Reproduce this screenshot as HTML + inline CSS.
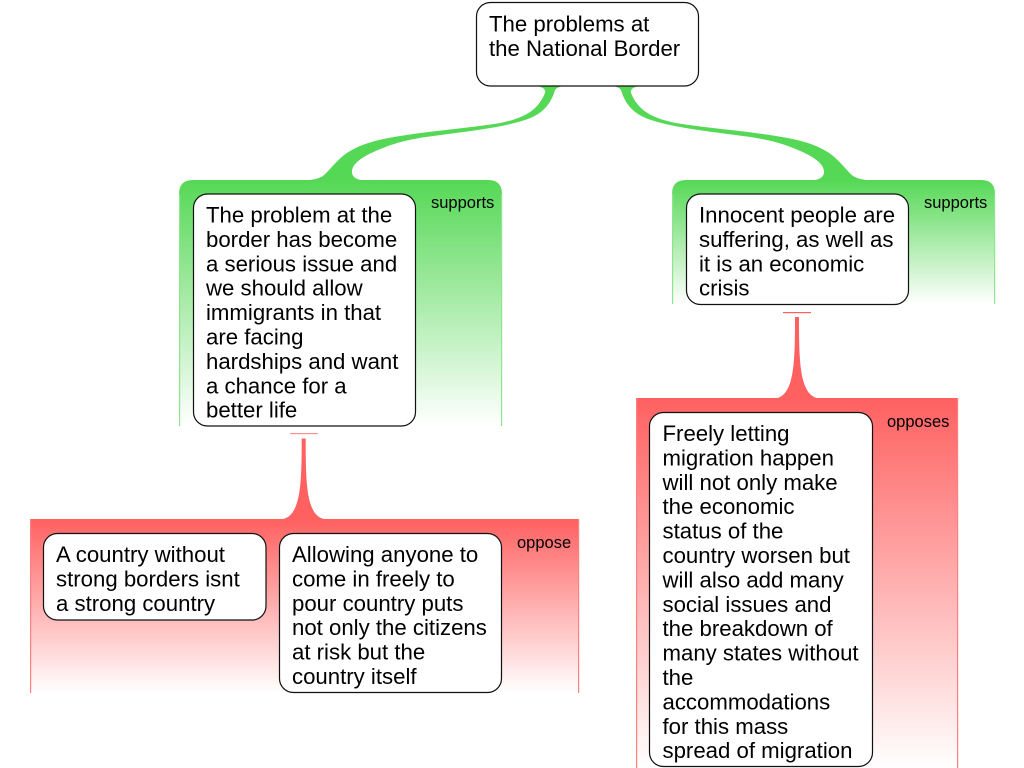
<!DOCTYPE html>
<html><head><meta charset="utf-8"><style>
html,body{margin:0;padding:0;background:#fff;width:1024px;height:768px;overflow:hidden}
svg{display:block}
text{font-family:"Liberation Sans",sans-serif;fill:#000}
.t{font-size:22.2px}
.l{font-size:16.5px}
.b{fill:#fff;stroke:#111;stroke-width:1.2}
</style></head><body>
<svg width="1024" height="768" viewBox="0 0 1024 768" xmlns="http://www.w3.org/2000/svg">
<defs>
<linearGradient id="g1" x1="0" y1="0" x2="0" y2="1"><stop offset="0" stop-color="#55d855"/><stop offset="1" stop-color="#fff"/></linearGradient>
<linearGradient id="r1" x1="0" y1="0" x2="0" y2="1"><stop offset="0" stop-color="#ff6060"/><stop offset="1" stop-color="#fff"/></linearGradient>
</defs>
<path d="M179 426V194Q179 180 193 180H488Q502 180 502 194V426Z" fill="url(#g1)"/>
<rect x="179" y="194" width="1.2" height="232" fill="#8fe48f"/>
<rect x="501" y="194" width="1.2" height="232" fill="#8fe48f"/>
<path d="M672 304V194Q672 180 686 180H981Q995 180 995 194V304Z" fill="url(#g1)"/>
<rect x="672" y="194" width="1.2" height="110" fill="#8fe48f"/>
<rect x="994" y="194" width="1.2" height="110" fill="#8fe48f"/>
<rect x="30" y="519" width="549" height="174" fill="url(#r1)"/>
<rect x="30" y="519" width="1.2" height="174" fill="#ff8080"/>
<rect x="578" y="519" width="1.2" height="174" fill="#ff8080"/>
<rect x="636" y="398" width="322" height="370" fill="url(#r1)"/>
<rect x="636" y="398" width="1.2" height="370" fill="#ff8080"/>
<rect x="957" y="398" width="1.2" height="370" fill="#ff8080"/>
<g fill="#55d855">
<path d="M537 86H564Q556.5 87 555 90C550 107 540 115 525 120C500 128 470 131 433 136C410 139 395 143 383 148C365 155 351 163 352 173Q353 180 366 180.5H305Q316 180 323 176C331 169 338 158 350 151C362 144 375 140 400 136C430 131 470 128 500 123C525 118 538 110 545 93Q546.5 88 537 86Z"/>
<path transform="translate(1176 0) scale(-1 1)" d="M537 86H564Q556.5 87 555 90C550 107 540 115 525 120C500 128 470 131 433 136C410 139 395 143 383 148C365 155 351 163 352 173Q353 180 366 180.5H305Q316 180 323 176C331 169 338 158 350 151C362 144 375 140 400 136C430 131 470 128 500 123C525 118 538 110 545 93Q546.5 88 537 86Z"/>
</g>
<g fill="#ff6060">
<rect x="290" y="433" width="28" height="1.2" fill="#ff9090"/>
<path d="M301.7 438.5H305.7C305.7 485 306 519.5 328 519.5H279C301 519.5 301.7 485 301.7 438.5Z"/>
<rect x="783" y="312" width="28" height="1.2"/>
<path d="M795 317H799C799 363 799.5 398.5 821 398.5H773C794.5 398.5 795 363 795 317Z"/>
</g>
<rect class="b" x="476.5" y="2.5" width="222" height="83.5" rx="14"/>
<rect class="b" x="193.5" y="194" width="222" height="232" rx="14"/>
<rect class="b" x="686.5" y="194" width="222" height="110.5" rx="14"/>
<rect class="b" x="43.5" y="533.5" width="222.5" height="86.5" rx="14"/>
<rect class="b" x="279.5" y="533.5" width="222" height="159" rx="14"/>
<rect class="b" x="649.5" y="412.5" width="223" height="354" rx="14"/>
<g class="t">
<text x="489" y="31.5">The problems at</text>
<text x="489" y="55.9">the National Border</text>
<text x="206" y="222.5">The problem at the</text>
<text x="206" y="246.9">border has become</text>
<text x="206" y="271.3">a serious issue and</text>
<text x="206" y="295.7">we should allow</text>
<text x="206" y="320.1">immigrants in that</text>
<text x="206" y="344.5">are facing</text>
<text x="206" y="368.9">hardships and want</text>
<text x="206" y="393.3">a chance for a</text>
<text x="206" y="417.7">better life</text>
<text x="699" y="222.5">Innocent people are</text>
<text x="699" y="246.9">suffering, as well as</text>
<text x="699" y="271.3">it is an economic</text>
<text x="699" y="295.7">crisis</text>
<text x="56" y="562">A country without</text>
<text x="56" y="586.4">strong borders isnt</text>
<text x="56" y="610.8">a strong country</text>
<text x="292" y="562">Allowing anyone to</text>
<text x="292" y="586.4">come in freely to</text>
<text x="292" y="610.8">pour country puts</text>
<text x="292" y="635.2">not only the citizens</text>
<text x="292" y="659.6">at risk but the</text>
<text x="292" y="684">country itself</text>
<text x="662.5" y="441">Freely letting</text>
<text x="662.5" y="465.4">migration happen</text>
<text x="662.5" y="489.8">will not only make</text>
<text x="662.5" y="514.2">the economic</text>
<text x="662.5" y="538.6">status of the</text>
<text x="662.5" y="563">country worsen but</text>
<text x="662.5" y="587.4">will also add many</text>
<text x="662.5" y="611.8">social issues and</text>
<text x="662.5" y="636.2">the breakdown of</text>
<text x="662.5" y="660.6">many states without</text>
<text x="662.5" y="685">the</text>
<text x="662.5" y="709.4">accommodations</text>
<text x="662.5" y="733.8">for this mass</text>
<text x="662.5" y="758.2">spread of migration</text>
</g>
<g class="l">
<text x="431" y="208">supports</text>
<text x="924" y="208">supports</text>
<text x="517" y="548">oppose</text>
<text x="887" y="427">opposes</text>
</g>
</svg>
</body></html>
